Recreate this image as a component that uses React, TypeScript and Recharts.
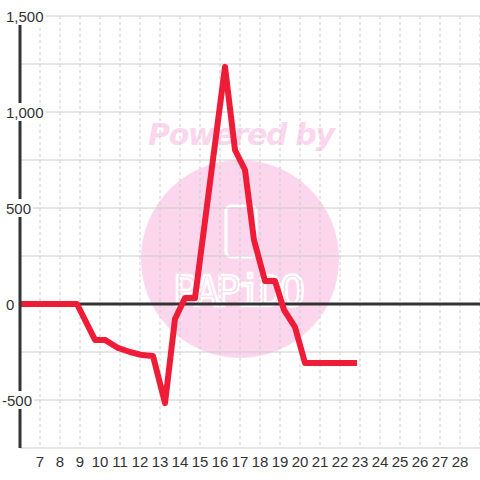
import { LineChart, Line, XAxis, YAxis, CartesianGrid, ReferenceLine } from 'recharts';

// day of month (fractional = time of day) and value
const days = [6, 8.85, 9.75, 10.25, 10.9, 11.5, 12.1, 12.65, 13.25, 13.75, 14.25, 14.75, 16.25, 16.75, 17.25, 17.7, 18.25, 18.75, 19.2, 19.75, 20.25, 22.85];
const values = [0, 0, -187, -187, -229, -250, -266, -271, -516, -78, 31, 31, 1235, 802, 698, 333, 120, 120, -31, -120, -307, -307];

const xTicks = [7, 8, 9, 10, 11, 12, 13, 14, 15, 16, 17, 18, 19, 20, 21, 22, 23, 24, 25, 26, 27, 28];
const yTicks = [-750, -500, -250, 0, 250, 500, 750, 1000, 1250, 1500];

const data = days.map((d, i) => ({ day: d, value: values[i] }));

const fmt = (v: number) => v.toLocaleString('en-US');

function textWidth(s: string) {
  let w = 0;
  for (const c of s) {
    if (c === ',') w += 4.2;
    else if (c === '-') w += 5;
    else w += 8.34;
  }
  return w;
}

function YTick(props: any) {
  const { y, payload } = props;
  const v = payload.value as number;
  if (v % 500 !== 0) return <g />;
  const label = fmt(v);
  const x0 = v < 0 ? 2 : 6;
  const w = textWidth(label);
  return (
    <g>
      <rect x={x0 - 1} y={y - 9} width={w + 3} height={18} fill="#fff" />
      <text x={x0} y={y + 5.5} fontSize={15} fill="#333" fontFamily="'Liberation Sans', Arial, sans-serif">
        {label}
      </text>
    </g>
  );
}

function Watermark() {
  return (
    <svg width={480} height={480} style={{ position: 'absolute', left: 0, top: 0 }}>
      <circle cx={240} cy={259} r={99} fill="#fcd6ec" />
      <text
        x={148}
        y={145}
        fontSize={30}
        fontWeight="bold"
        fontStyle="italic"
        fill="#fcd6ec"
        textLength={187}
        fontFamily="'DejaVu Sans', sans-serif"
      >
        Powered by
      </text>
      <rect x={226} y={206} width={30} height={51} rx={5} fill="none" stroke="#fff" strokeWidth={3} />
      <text
        x={173}
        y={306}
        fontSize={42}
        fill="none"
        stroke="#fff"
        strokeWidth={2.5}
        textLength={132}
        fontFamily="'DejaVu Sans Mono', monospace"
      >
        PAPiDO
      </text>
    </svg>
  );
}

export default function App() {
  return (
    <div style={{ position: 'absolute', left: 0, top: 0, width: 480, height: 480, background: '#fff' }}>
      <Watermark />
      <div style={{ position: 'absolute', left: 0, top: 0 }}>
        <LineChart width={480} height={480} data={data} margin={{ top: 16, right: 0, bottom: 0, left: 0 }}>
          <CartesianGrid vertical={false} stroke="#cccccc" />
          <CartesianGrid horizontal={false} stroke="#cccccc" strokeDasharray="3 3" />
          <XAxis
            dataKey="day"
            type="number"
            domain={[6, 29]}
            ticks={xTicks}
            interval={0}
            height={32}
            axisLine={false}
            tickLine={false}
            tick={{ fontSize: 15, fill: '#333', fontFamily: "'Liberation Sans', Arial, sans-serif" }}
          />
          <YAxis
            type="number"
            domain={[-750, 1500]}
            ticks={yTicks}
            interval={0}
            width={20}
            axisLine={{ stroke: '#333', strokeWidth: 3 }}
            tickLine={false}
            tick={(p: any) => <YTick {...p} />}
          />
          <ReferenceLine y={0} stroke="#333" strokeWidth={3} />
          <Line
            type="linear"
            dataKey="value"
            stroke="#ee1c37"
            strokeWidth={6}
            strokeLinejoin="round"
            dot={false}
            activeDot={false}
            isAnimationActive={false}
          />
        </LineChart>
      </div>
    </div>
  );
}
